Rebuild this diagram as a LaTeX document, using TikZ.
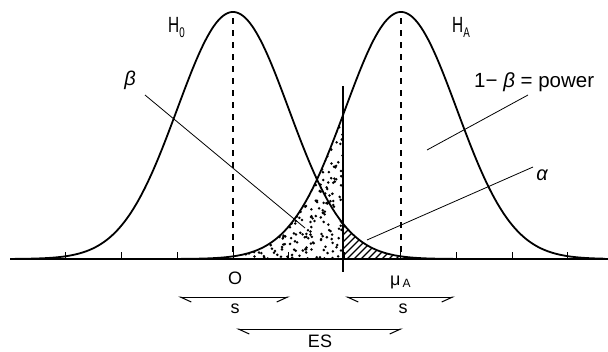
\documentclass[tikz,border=0pt]{standalone}
\usepackage{fontspec}
\setmainfont{Liberation Sans}
\newfontfamily\condfont{Liberation Sans}[FakeStretch=0.7]
\usetikzlibrary{arrows.meta}
\begin{document}
\begin{tikzpicture}[x=1pt,y=-1pt,
  declare function={
    fz(\x)=259-247*exp(-((\x-233)/55.8)^2/2);
    fa(\x)=259-247*exp(-((\x-401)/55.8)^2/2);
  },
  curve/.style={line width=1.8pt, line join=round},
  axisline/.style={line width=1.6pt},
  tickline/.style={line width=1pt},
  pointer/.style={line width=0.8pt},
  meanline/.style={line width=1.2pt, dash pattern=on 6pt off 6pt},
  cutline/.style={line width=1.1pt},
  hatch/.style={line width=1.2pt},
  lbl/.style={font=\fontsize{18}{20}\selectfont, inner sep=0pt},
  hlbl/.style={font=\condfont\fontsize{22}{24}\selectfont, inner sep=0pt},
  dimarrow/.style={line width=1pt,
    {Straight Barb[harpoon,length=11pt,width=10pt]}-{Straight Barb[harpoon,swap,length=11pt,width=10pt]}}
]
\useasboundingbox (0,0) rectangle (608,351);
\fill[white] (0,0) rectangle (608,351);

% dotted beta region
\begin{scope}
  \clip (170,259) -- plot[domain=170:343, samples=80] (\x,{fa(\x)}) -- (343,259) -- cycle;
  \pgfmathsetseed{7}
  \foreach \i in {1,...,950}{
    \pgfmathsetmacro\px{170+173*rnd}
    \pgfmathsetmacro\py{259-146*rnd}
    \fill (\px,\py) circle[radius=1.4pt];
  }
\end{scope}

% hatched alpha region
\begin{scope}
  \clip (343,259) -- plot[domain=343:470, samples=60] (\x,{fz(\x)}) -- (470,259) -- cycle;
  \foreach \k in {0,...,24}
    \draw[hatch] ({303+7*\k},261) -- ++(50,-50);
\end{scope}

% axis and ticks
\draw[axisline] (10,259) -- (608,259);
\foreach \k in {-3,...,6}
  \draw[tickline] ({233+\k*55.8},259) -- ++(0,-7);

% mean lines
\draw[meanline] (233,18) -- (233,259);
\draw[meanline] (401,18) -- (401,259);

% cut line
\draw[cutline] (343,86) -- (343,272);

% curves
\draw[curve] plot[domain=15:460, samples=200] (\x,{fz(\x)});
\draw[curve] plot[domain=175:605, samples=200] (\x,{fa(\x)});

% labels
\node[hlbl, anchor=base west] (h0) at (168,32) {H\raisebox{-0.45ex}{\fontsize{14}{15}\selectfont 0}};
\node[hlbl, anchor=base west] (ha) at (452,32) {H\raisebox{-0.45ex}{\fontsize{14}{15}\selectfont A}};
\node[lbl, font=\fontsize{20}{22}\selectfont] (beta) at (130,80) {\itshape β};
\node[lbl, font=\fontsize{20.5}{22}\selectfont, anchor=base west] (power) at (474,87) {1− {\itshape β} = power};
\node[lbl, font=\fontsize{20}{22}\selectfont] (alpha) at (542,175) {\itshape α};
\node[lbl] (zero) at (235,278) {O};
\node[lbl, anchor=base west] (mua) at (390,285) {μ\raisebox{-0.3ex}{\fontsize{12}{13}\selectfont\,A}};
\node[lbl] (sl) at (235,309) {s};
\node[lbl] (sr) at (403,309) {s};
\node[lbl] (es) at (320,341) {ES};

% pointers
\coordinate (b1) at (145,95);  \coordinate (b2) at (305,228);
\coordinate (p1) at (528,95);  \coordinate (p2) at (427,150);
\coordinate (a1) at (533,167); \coordinate (a2) at (367,240);
\draw[pointer] (b1) -- (b2);
\draw[pointer] (p1) -- (p2);
\draw[pointer] (a1) -- (a2);

% dimension arrows
\coordinate (sl1) at (178,297); \coordinate (sl2) at (290,297);
\coordinate (sr1) at (345,297); \coordinate (sr2) at (455,297);
\coordinate (es1) at (236,329); \coordinate (es2) at (403,329);
\draw[dimarrow] (sl1) -- (sl2);
\draw[dimarrow] (sr1) -- (sr2);
\draw[dimarrow] (es1) -- (es2);
\end{tikzpicture}
\end{document}
